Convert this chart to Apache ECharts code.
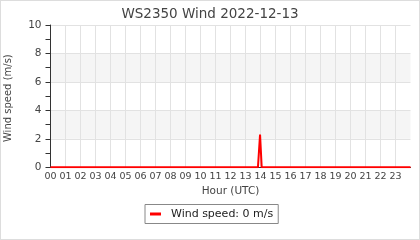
<!DOCTYPE html>
<html>
<head>
<meta charset="utf-8">
<script src="https://cdn.jsdelivr.net/npm/echarts@6/dist/echarts.min.js"></script>
<style>
html,body{margin:0;padding:0;background:#fff;}
#frame{width:420px;height:240px;box-sizing:border-box;border:1px solid #dddddd;position:relative;}
#chart{position:absolute;left:-1px;top:-1px;width:420px;height:240px;}
</style>
</head>
<body>
<div id="frame"><div id="chart"></div></div>
<script>
// Data
const titleText = 'WS2350 Wind 2022-12-13';
const seriesName = 'Wind speed';
const unit = 'm/s';
const hours = [0, 13.83, 13.97, 14.08, 24];
const windSpeed = [0, 0, 2.3, 0, 0];
const currentSpeed = 0;
const hourTicks = ['00','01','02','03','04','05','06','07','08','09','10','11','12','13','14','15','16','17','18','19','20','21','22','23'];

const font = 'DejaVu Sans';
const points = hours.map((h, i) => [h, windSpeed[i]]);
const vGridColors = hourTicks.map(() => '#e2e2e2').concat(['rgba(0,0,0,0)']);

const chart = echarts.init(document.getElementById('chart'), null, {renderer: 'canvas'});
chart.setOption({
  animation: false,
  backgroundColor: 'transparent',
  title: {
    text: titleText, left: 'center', top: 2,
    textStyle: {fontFamily: font, fontSize: 13.5, fontWeight: 'normal', color: '#444'}
  },
  legend: {
    data: [seriesName],
    left: 145, top: 204.5,
    padding: [4, 5],
    borderColor: '#888', borderWidth: 1,
    icon: 'rect', itemWidth: 11, itemHeight: 3,
    formatter: n => n + ': ' + currentSpeed + ' ' + unit,
    textStyle: {fontFamily: font, fontSize: 11, color: '#222', padding: [0, 0, 0, 5]}
  },
  grid: {left: 50.5, right: 9.5, top: 25, bottom: 72.7, containLabel: false, outerBoundsMode: 'none'},
  xAxis: {
    type: 'value', min: 0, max: 24, interval: 1,
    name: 'Hour (UTC)', nameLocation: 'middle', nameGap: 14,
    nameTextStyle: {fontFamily: font, fontSize: 10.5, color: '#444'},
    axisLine: {show: true, lineStyle: {color: '#333', width: 1}},
    axisTick: {show: false},
    axisLabel: {
      fontFamily: font, fontSize: 9.5, color: '#444', margin: 4,
      formatter: v => (v < hourTicks.length ? hourTicks[v] : '')
    },
    splitLine: {show: true, lineStyle: {color: vGridColors, width: 1}}
  },
  yAxis: {
    type: 'value', min: 0, max: 10, interval: 2,
    name: 'Wind speed (m/s)', nameLocation: 'middle', nameGap: 37, nameRotate: 90,
    nameTextStyle: {fontFamily: font, fontSize: 10, color: '#444', padding: [0, 4, 0, 0]},
    axisLine: {show: true, lineStyle: {color: '#333', width: 1}},
    axisTick: {show: true, length: 5, lineStyle: {color: '#333'}},
    minorTick: {show: true, splitNumber: 2, length: 5, lineStyle: {color: '#333'}},
    axisLabel: {fontFamily: font, fontSize: 10.5, color: '#444', margin: 9},
    splitLine: {show: true, lineStyle: {color: '#e2e2e2', width: 1}},
    splitArea: {show: true, areaStyle: {color: ['rgba(0,0,0,0)', '#f5f5f5']}}
  },
  series: [{
    name: seriesName, type: 'line', data: points,
    showSymbol: false, symbol: 'none',
    lineStyle: {color: '#ff0000', width: 2},
    itemStyle: {color: '#ff0000'}
  }]
});
</script>
</body>
</html>
